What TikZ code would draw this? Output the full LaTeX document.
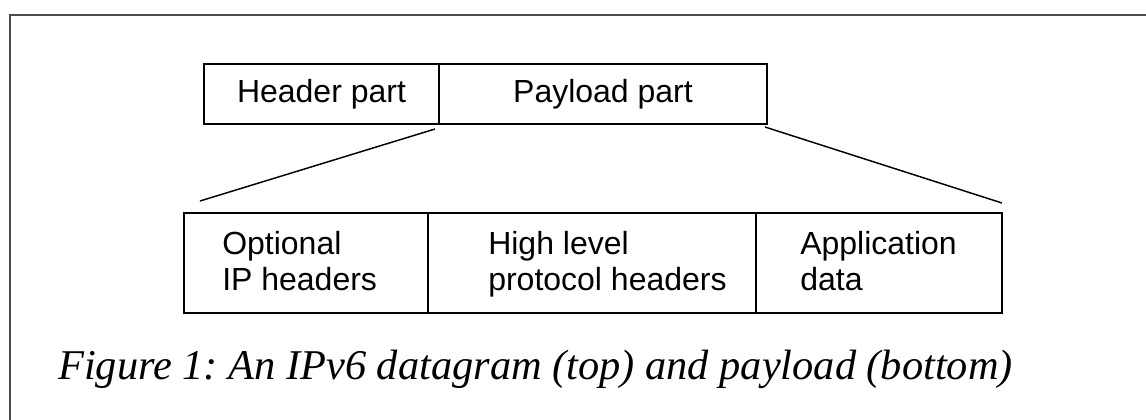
\documentclass[tikz,border=0pt]{standalone}
\usepackage{fontspec}
\setmainfont{Liberation Serif}
\newfontfamily\arialfont{Liberation Sans}
\usetikzlibrary{calc}
\frenchspacing

\begin{document}
\begin{tikzpicture}[x=0.75pt, y=-0.75pt,
  cell/.style={draw, line width=2pt, inner sep=0pt, outer sep=0pt,
    font=\arialfont\fontsize{24}{27}\selectfont},
  lbl/.style={inner sep=0pt, align=left, anchor=base west,
    font=\arialfont\fontsize{24}{27}\selectfont},
  link/.style={line width=1.1pt},
  capt/.style={inner sep=0pt, anchor=base west,
    font=\itshape\fontsize{31.8}{36}\selectfont}]
  \useasboundingbox (0,0) rectangle (1146,419);
  \clip (0,0) rectangle (1146,419);
  % frame, open to the right and below
  \draw[line width=1.5pt, black!70] (10,15) rectangle (1200,480);
  % datagram: header + payload
  \node[cell, minimum width=235*0.75pt, minimum height=60*0.75pt] (hdr) at (321.5,94) {Header part};
  \node[cell, minimum width=328*0.75pt, minimum height=60*0.75pt] (pay) at (603,94) {Payload part};
  % payload split in three
  \foreach \nm/\cx/\cw in {opt/306/244, hlp/592/328, app/879/246}
    \node[cell, minimum width=\cw*0.75pt, minimum height=100*0.75pt] (\nm) at (\cx,263) {};
  % base anchor = baseline of the second line
  \foreach \nm/\tx/\txt in {opt/222/{Optional\\IP headers}, hlp/488/{High level\\protocol headers}, app/800/{Application\\data}}
    \node[lbl] (\nm-t) at (\tx,290) {\txt};
  % zoom lines
  \draw[link] ([shift={(-4,5)}]hdr.south east) -- ([shift={(16,-12)}]opt.north west);
  \draw[link] ([shift={(-2,3)}]pay.south east) -- ([shift={(0,-10)}]app.north east);
  % caption
  \node[capt] (cap) at (58,379.5) {Figure 1: An IPv6 datagram (top) and payload (bottom)};
\end{tikzpicture}
\end{document}
